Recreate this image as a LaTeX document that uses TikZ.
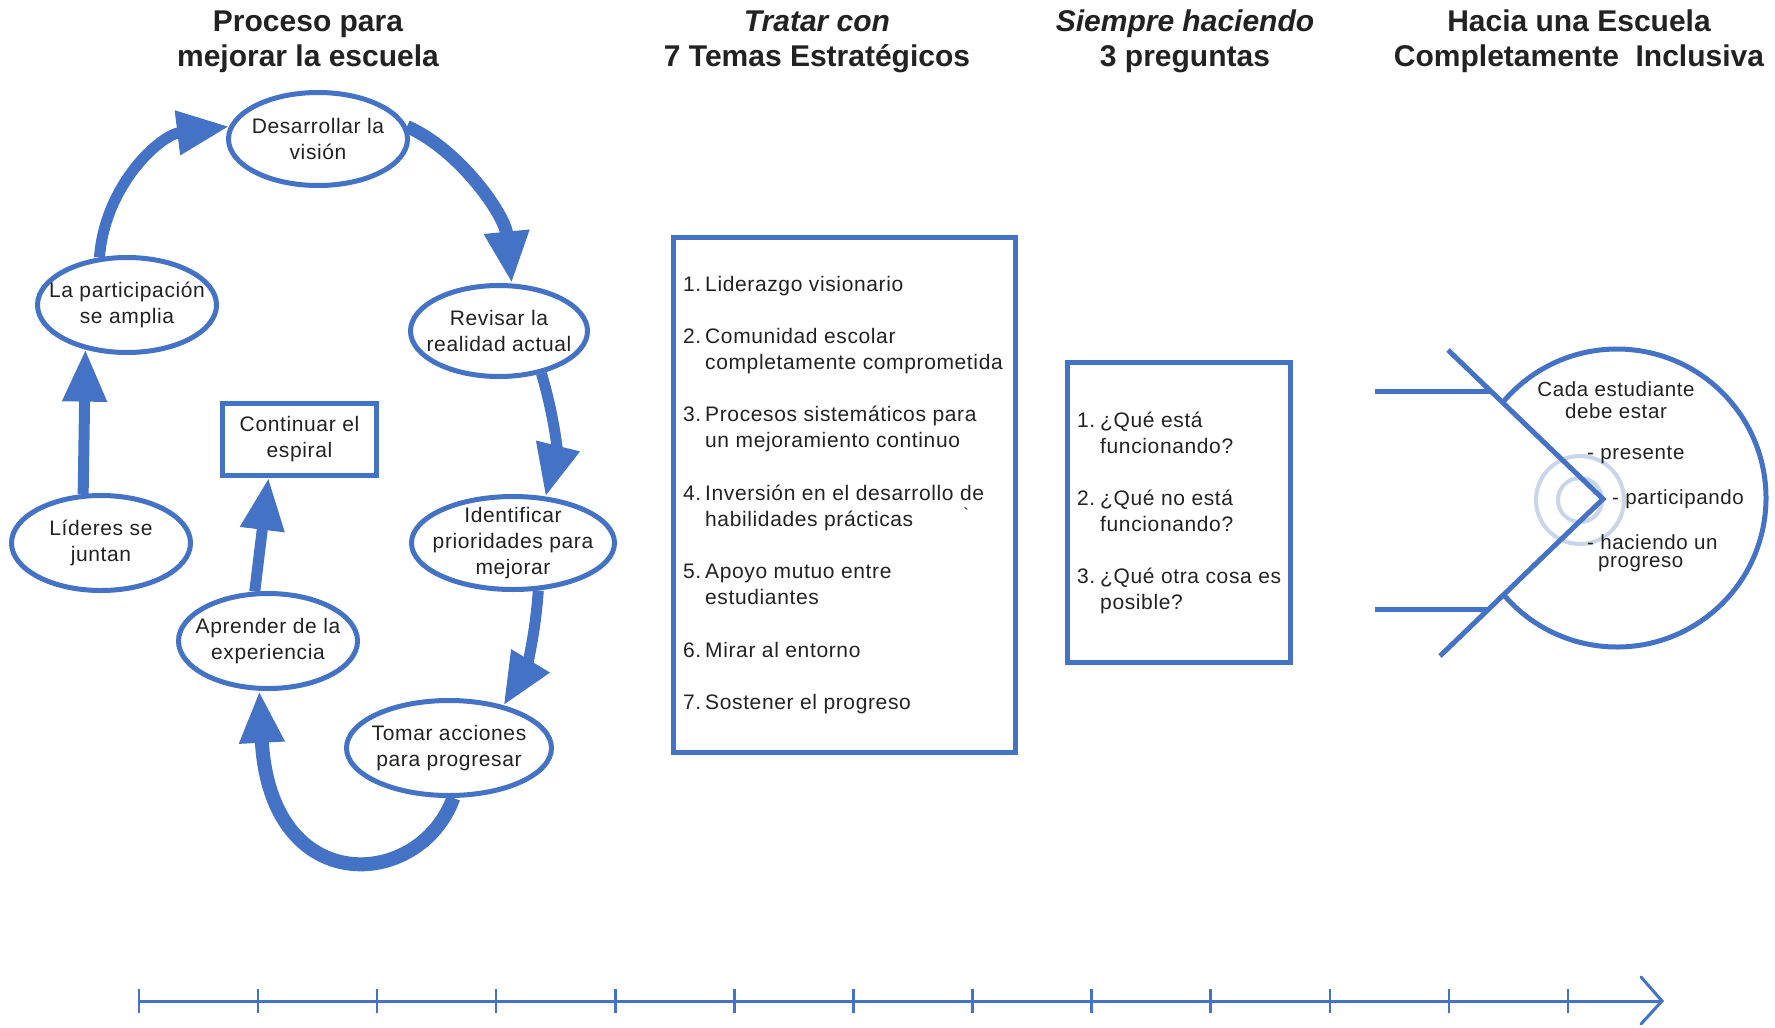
\documentclass[tikz,border=0pt]{standalone}
\usepackage{fontspec}
\setmainfont{Liberation Sans}
\newfontfamily\bodyfont[LetterSpace=3]{Liberation Sans}
\usetikzlibrary{shapes.geometric,arrows.meta}
\definecolor{cblue}{HTML}{4472C4}
\definecolor{ctext}{HTML}{222222}
\definecolor{cring}{HTML}{C9D5E8}
\begin{document}
\begin{tikzpicture}[x=1pt,y=-1pt,
  every node/.style={text=ctext},
  oval/.style={ellipse, draw=cblue, line width=5pt, inner sep=0pt},
  ovaltext/.style={inner sep=0pt, align=center, font=\bodyfont\fontsize{21}{26}\selectfont},
  bigarrow/.style={draw=cblue, line width=11pt, -{Triangle[width=42pt,length=52pt]}},
  heading/.style={font=\bfseries\fontsize{30}{35}\selectfont, align=center},
  listbox/.style={draw=cblue, line width=5pt, inner sep=0pt},
  listtext/.style={inner sep=0pt, anchor=base west, font=\bodyfont\fontsize{21}{26.15}\selectfont},
  ringtext/.style={inner sep=0pt, font=\bodyfont\fontsize{20.5}{22}\selectfont},
  thinblue/.style={draw=cblue, line width=5pt},
  axis/.style={draw=cblue, line width=3pt}
]
\useasboundingbox (0,0) rectangle (1775,1028);
\fill[white] (0,0) rectangle (1775,1028);

% headings
\node[heading] (h1) at (308,41.5) {Proceso para\\mejorar la escuela};
\node[heading] (h2) at (817,41.5) {\itshape Tratar con\\7 Temas Estrat\'egicos};
\node[heading] (h3) at (1185,41.5) {\itshape Siempre haciendo\\\upshape 3 preguntas};
\node[heading] (h4) at (1579,41.5) {Hacia una Escuela\\Completamente\ \ Inclusiva};

% cycle nodes
\node[oval, minimum width=179pt, minimum height=93pt] (dv) at (318,139) {};
\node[oval, minimum width=177pt, minimum height=91pt] (rv) at (499,331) {};
\node[oval, minimum width=203pt, minimum height=93pt] (id) at (513,543) {};
\node[oval, minimum width=205pt, minimum height=95pt] (tm) at (449,748) {};
\node[oval, minimum width=179pt, minimum height=95pt] (ap) at (268,641) {};
\node[oval, minimum width=179pt, minimum height=95pt] (ld) at (101,543) {};
\node[oval, minimum width=179pt, minimum height=95pt] (lp) at (127,305) {};
\node[ovaltext] (dvt) at (dv) {Desarrollar la\\visi\'on};
\node[ovaltext] (rvt) at (rv) {Revisar la\\realidad actual};
\node[ovaltext] (idt) at (id) {Identificar\\prioridades para\\mejorar};
\node[ovaltext] (tmt) at (tm) {Tomar acciones\\para progresar};
\node[ovaltext] (apt) at (ap) {Aprender de la\\experiencia};
\node[ovaltext] (ldt) at (ld) {L\'ideres se\\juntan};
\node[ovaltext] (lpt) at (lp) {La participaci\'on\\se amplia};
\node[rectangle, draw=cblue, line width=5pt, minimum width=154pt, minimum height=72pt, inner sep=0pt, align=center,
  font=\bodyfont\fontsize{21}{26}\selectfont] (ct) at (299.5,439.5) {Continuar el\\espiral};

% cycle arrows
\draw[bigarrow] (lp.120) .. controls (105,185) and (160,135) .. (dv.172);
\draw[bigarrow, line width=13pt] (dv.8) .. controls (460,150) and (505,215) .. (rv.75);
\draw[bigarrow] (rv.-45) .. controls (555,420) and (557,450) .. (id.55);
\draw[bigarrow] (id.-62) .. controls (535,640) and (525,670) .. (tm.38);
\draw[bigarrow, line width=14pt] (tm.-85) .. controls (420,890) and (270,900) .. (ap.-100);
\draw[bigarrow] (ap.105) -- ([xshift=-31pt]ct.south);
\draw[bigarrow] (ld.110) -- (lp.-133);

% strategic themes box
\node[listbox, minimum width=342pt, minimum height=515pt] (themes) at (844.5,495) {};
\node[listtext] (themelist) at (683,291) {\begin{tabular}[t]{@{}p{22pt}@{}l@{}}
1.&Liderazgo visionario\\[26.15pt]
2.&Comunidad escolar\\
&completamente comprometida\\[26.15pt]
3.&Procesos sistem\'aticos para\\
&un mejoramiento continuo\\[26.15pt]
4.&Inversi\'on en el desarrollo de\\
&habilidades pr\'acticas\\[26.15pt]
5.&Apoyo mutuo entre\\
&estudiantes\\[26.15pt]
6.&Mirar al entorno\\[26.15pt]
7.&Sostener el progreso
\end{tabular}};
\node[inner sep=0pt, font=\fontsize{16}{16}\selectfont] (stray) at (966,514) {\textasciigrave};

% questions box
\node[listbox, minimum width=223pt, minimum height=300pt] (questions) at (1179,512.5) {};
\node[listtext] (qlist) at (1077,427) {\begin{tabular}[t]{@{}p{23pt}@{}l@{}}
1.&¿Qu\'e est\'a\\
&funcionando?\\[26pt]
2.&¿Qu\'e no est\'a\\
&funcionando?\\[26pt]
3.&¿Qu\'e otra cosa es\\
&posible?
\end{tabular}};

% target
\draw[draw=cring, line width=4pt] (1580,500) circle[radius=44];
\draw[draw=cring, line width=4pt] (1580,500) circle[radius=22];
\coordinate (vtop) at (1448,350);
\coordinate (vtip) at (1603,499);
\coordinate (vbot) at (1440,656);
\coordinate (ltop) at (1375,391);
\coordinate (lbot) at (1375,609);
\draw[thinblue] (vtop) -- (vtip) -- (vbot);
\draw[thinblue] (ltop) -- (1491,391);
\draw[thinblue] (lbot) -- (1489,609);
\draw[thinblue] (1617,498) ++(140:149) arc[start angle=140, end angle=-139.5, radius=149];

\node[ringtext, align=center] (cada) at (1616,400) {Cada estudiante\\debe estar};
\node[ringtext, anchor=west] (pres) at (1587,455) {- presente};
\node[ringtext, anchor=west] (part) at (1612,499) {- participando};
\node[ringtext, anchor=west] (hac) at (1587,542) {- haciendo un};
\node[ringtext, anchor=west] (prog) at (1598,564) {progreso};

% timeline
\coordinate (tstart) at (139,1001);
\coordinate (tend) at (1662,1001);
\draw[axis] (tstart) -- (tend);
\foreach \i in {0,...,12} {
  \draw[axis, line width=2.5pt] ({139+119.08*\i},989) -- ({139+119.08*\i},1013);
}
\draw[axis, line cap=round] (1641,977) -- (tend) -- (1641,1024);
\end{tikzpicture}
\end{document}
